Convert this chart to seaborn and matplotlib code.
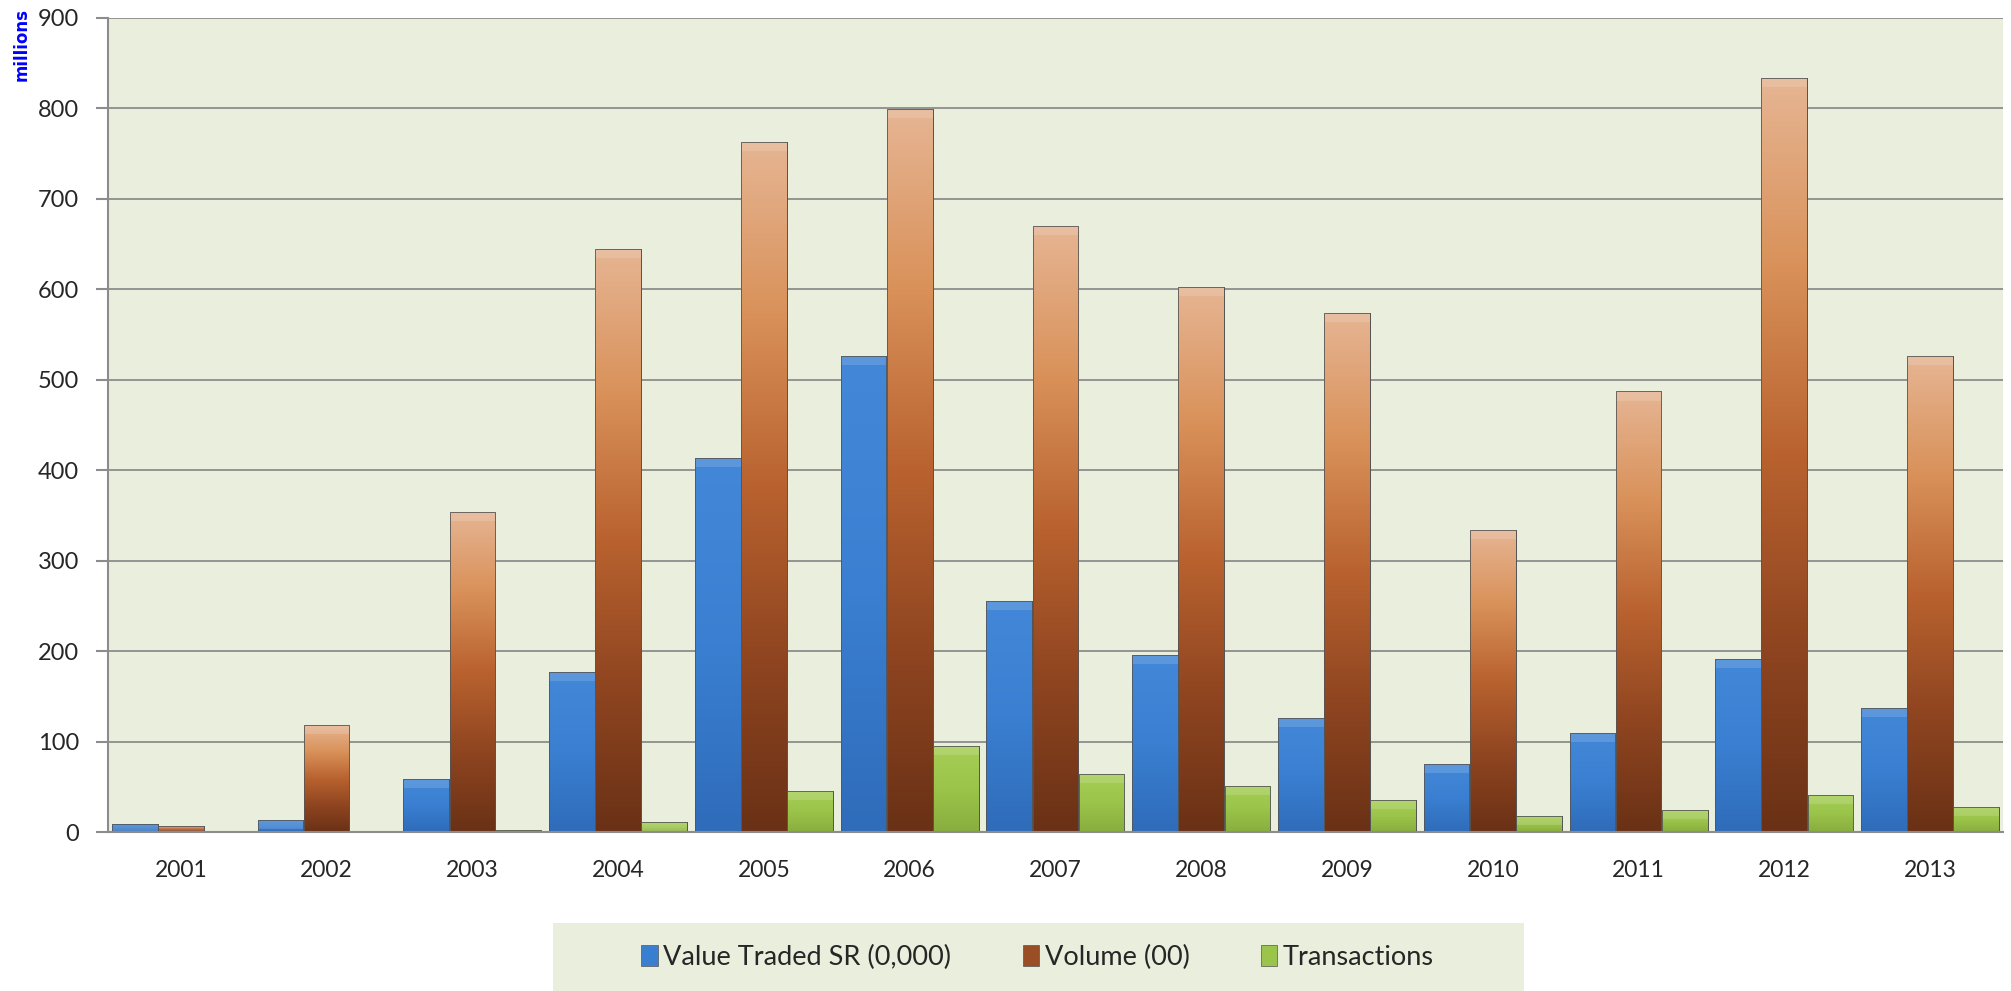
import numpy as np
import pandas as pd
import seaborn as sns
import matplotlib.pyplot as plt
from matplotlib.colors import LinearSegmentedColormap
from matplotlib.patches import Rectangle, Patch

years = ["2001", "2002", "2003", "2004", "2005", "2006", "2007",
         "2008", "2009", "2010", "2011", "2012", "2013"]
value_traded = [9, 13, 59, 177, 413, 526, 255, 196, 126, 75, 109, 191, 137]
volume = [7, 118, 354, 645, 763, 799, 670, 602, 574, 334, 487, 833, 526]
transactions = [0, 0.5, 2, 11, 45, 95, 64, 51, 35, 18, 24, 41, 28]
series_names = ["Value Traded SR (0,000)", "Volume (00)", "Transactions"]


def main():
    df = pd.DataFrame({
        "year": years * 3,
        "value": value_traded + volume + transactions,
        "series": [series_names[0]] * 13 + [series_names[1]] * 13 + [series_names[2]] * 13,
    })

    sns.set_style("white")
    plt.rcParams['font.family'] = ['Lato', 'DejaVu Sans']

    fig = plt.figure(figsize=(20.11, 9.91), dpi=100)
    ax = fig.add_axes([0.0537, 0.1604, 0.9423, 0.8216])
    ax.set_facecolor("#EAEEDD")

    base = {series_names[0]: "#3A7ECF", series_names[1]: "#B5602E", series_names[2]: "#9BC44A"}
    sns.barplot(data=df, x="year", y="value", hue="series", order=years, hue_order=series_names,
                palette=base, width=0.95, gap=0.01, legend=False, ax=ax,
                edgecolor="#4a4a4a", linewidth=0.6, zorder=3)

    # gradient fills clipped to each bar
    cmaps = [
        LinearSegmentedColormap.from_list("b", ["#2F6CBA", "#3A7FD1", "#4388D8"]),
        LinearSegmentedColormap.from_list("o", ["#6A3116", "#8F4520", "#B9622F", "#D99159", "#E6B593"]),
        LinearSegmentedColormap.from_list("g", ["#88AE3E", "#9BC44A", "#A6CE55"]),
    ]
    grad = np.linspace(0, 1, 256).reshape(-1, 1)
    for cont, cmap in zip(ax.containers, cmaps):
        for p in cont.patches:
            x, w, h = p.get_x(), p.get_width(), p.get_height()
            if h <= 0:
                continue
            im = ax.imshow(grad, cmap=cmap, origin="lower", aspect="auto",
                           extent=(x, x + w, 0, h), interpolation="bilinear", zorder=3.5)
            im.set_clip_path(p)
            # lighter bevel at top
            ax.add_patch(Rectangle((x, h), w, -min(h, 10), facecolor="white", alpha=0.14,
                                   edgecolor="none", zorder=3.6))
            ax.add_patch(Rectangle((x, 0), w, h, facecolor="none", edgecolor="#555555",
                                   linewidth=0.6, zorder=3.7))

    ax.set_xlim(-0.5, 12.5)
    ax.set_ylim(0, 900)
    ax.set_yticks(range(0, 901, 100))
    ax.yaxis.grid(True, color="#8C8C8C", linewidth=1.3, zorder=1)
    ax.set_axisbelow(True)
    ax.set_xlabel("")
    ax.set_ylabel("")

    for s in ["top", "right"]:
        ax.spines[s].set_visible(False)
    for s in ["left", "bottom"]:
        ax.spines[s].set_color("#8C8C8C")
        ax.spines[s].set_linewidth(1.5)
        ax.spines[s].set_zorder(5)

    ax.set_xticks(np.arange(-0.5, 13, 1), minor=True)
    ax.tick_params(axis="x", which="major", length=0, pad=20, labelsize=16.5)
    ax.tick_params(axis="x", which="minor", length=9, width=1.5, color="#8C8C8C", direction="out")
    ax.tick_params(axis="y", length=9, width=1.5, color="#8C8C8C", pad=12, labelsize=17, left=True)

    fig.text(0.011, 0.955, "millions", rotation=90, color="#0000FF", fontweight="bold",
             fontsize=12, ha="center", va="center", family=["DejaVu Sans"])

    # legend box
    fig.patches.append(Rectangle((0.275, 0.0), 0.483, 0.069, transform=fig.transFigure,
                                 facecolor="#EAEEDD", edgecolor="none", zorder=0))
    handles = [Patch(facecolor=c, edgecolor="#555555", linewidth=0.5) for c in
               ["#3A7ECF", "#9A4E25", "#9BC44A"]]
    fig.legend(handles, series_names, loc="center", bbox_to_anchor=(0.516, 0.034), ncol=3,
               frameon=False, fontsize=19.5, handlelength=0.6, handleheight=0.85,
               handletextpad=0.2, columnspacing=2.65)

    plt.savefig("out.png", dpi=100)


if __name__ == "__main__":
    main()
